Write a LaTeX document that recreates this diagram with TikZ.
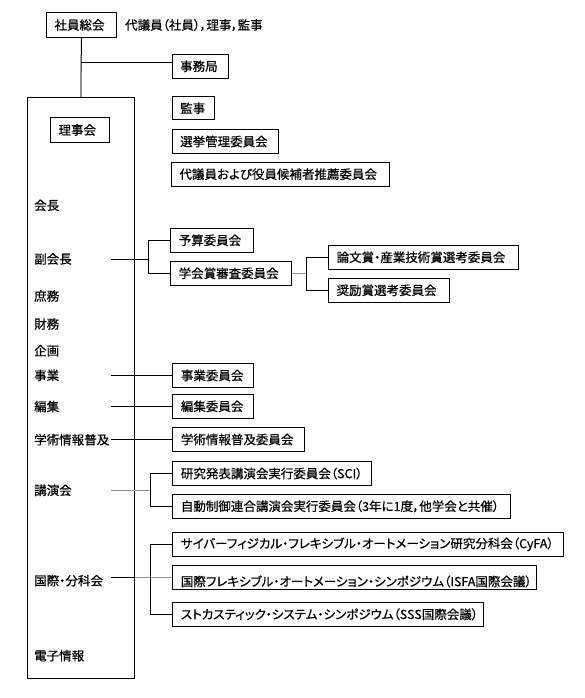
\documentclass[tikz,border=0pt]{standalone}
\usepackage{fontspec}
\setmainfont{Noto Sans CJK JP}[RawFeature=+palt, FakeBold=0.6]
\definecolor{linegray}{HTML}{8E8E8E}
\begin{document}
\begin{tikzpicture}[x=1pt,y=-1pt,
  font=\fontsize{12.5}{14}\selectfont,
  cbox/.style={draw, line width=1pt, anchor=west, minimum height=24pt,
    inner xsep=8pt, inner ysep=0pt, align=left, text width=#1},
  lab/.style={anchor=west, inner sep=0pt, text width=77pt, align=left},
  ln/.style={line width=1pt},
  gln/.style={line width=1.2pt, draw=linegray}]
\useasboundingbox (0,0) rectangle (584,698);

% top
\node[cbox=54pt, minimum height=25.4pt] (soukai) at (46,25) {社員総会};
\node[anchor=west, inner sep=0pt] (dai) at (125,25) {代議員（社員），理事，監事};
\node[cbox=40pt] (jimu) at (171.7,66.3) {事務局};
\node[cbox=26.6pt, minimum height=23.3pt] (kanji) at (171.7,108.3) {監事};
\node[cbox=90pt] (senkyo) at (171.7,141.5) {選挙管理委員会};
\node[cbox=201.7pt] (suisen) at (171,174.2) {代議員および役員候補者推薦委員会};

% frame
\node[draw, line width=1pt, minimum width=107pt, minimum height=580.6pt, inner sep=0pt] (frame) at (80.8,388) {};
\node[cbox=42.7pt, minimum height=25.4pt] (rijikai) at (50,130) {理事会};

% left labels
\node[lab] (kaicho) at (34,205.3) {会長};
\node[lab] (fukukaicho) at (34,259) {副会長};
\node[lab] (shomu) at (34,296) {庶務};
\node[lab] (zaimu) at (34,324) {財務};
\node[lab] (kikaku) at (34,350.7) {企画};
\node[lab] (jigyo) at (34,375.3) {事業};
\node[lab] (henshu) at (34,406.5) {編集};
\node[lab] (gakujutsu) at (34,439.7) {学術情報普及};
\node[lab] (koen) at (34,490.3) {講演会};
\node[lab] (kokusai) at (34,580.7) {国際・分科会};
\node[lab] (denshi) at (34,655.7) {電子情報};

% committees
\node[cbox=66.3pt] (yosan) at (170.2,240.3) {予算委員会};
\node[cbox=105pt] (shinsa) at (170.2,273.3) {学会賞審査委員会};
\node[cbox=173.6pt] (ronbun) at (328.1,257.3) {論文賞・産業技術賞選考委員会};
\node[cbox=104.7pt] (shorei) at (328.1,290.3) {奨励賞選考委員会};
\node[cbox=65pt] (jigyoI) at (172.4,375.5) {事業委員会};
\node[cbox=65pt] (henshuI) at (172.4,406.3) {編集委員会};
\node[cbox=116pt] (gakujutsuI) at (172.4,439.5) {学術情報普及委員会};
\node[cbox=182.2pt] (sci) at (172.4,473.5) {研究発表講演会実行委員会（SCI）};
\node[cbox=321.8pt] (jido) at (172.4,506.3) {自動制御連合講演会実行委員会（3年に1度，他学会と共催）};
\node[cbox=375pt] (cyfa) at (172.4,544.3) {サイバーフィジカル・フレキシブル・オートメーション研究分科会（CyFA）};
\node[cbox=348pt] (isfa) at (172.4,577.3) {\rule{0pt}{19pt}国際フレキシブル・オートメーション・シンポジウム（ISFA国際会議）};
\node[cbox=295pt] (sss) at (172.4,614.3) {ストカスティック・システム・シンポジウム（SSS国際会議）};

% connectors
\coordinate (j1) at (81,63);
\coordinate (j2) at (81,72);
\draw[ln] (soukai.south) -- (j2);
\draw[ln] (j1) -- (j1 -| jimu.west);
\draw[gln] (j2) -- (j2 |- frame.north);

\coordinate (b1) at (148.2,259);
\draw[ln] (fukukaicho.east) -- (b1);
\draw[ln] (yosan.west) -- (yosan.west -| b1) -- (shinsa.west -| b1) -- (shinsa.west);

\coordinate (b2) at (306.5,273.3);
\draw[gln] (shinsa.east) -- (b2);
\draw[ln] (ronbun.west) -- (ronbun.west -| b2) -- (shorei.west -| b2) -- (shorei.west);

\draw[ln] (jigyo.east) -- (jigyo.east -| jigyoI.west);
\draw[ln] (henshu.east) -- (henshu.east -| henshuI.west);
\draw[ln] (gakujutsu.east) -- (gakujutsu.east -| gakujutsuI.west);

\coordinate (b3) at (150.5,490.3);
\draw[gln] (koen.east) -- (b3);
\draw[ln] (sci.west) -- (sci.west -| b3) -- (jido.west -| b3) -- (jido.west);

\draw[ln] (kokusai.east |- isfa.west) -- (isfa.west -| frame.east);
\draw[gln] (isfa.west -| frame.east) -- (isfa.west);
\draw[ln] (cyfa.west) -- (cyfa.west -| b3) -- (sss.west -| b3) -- (sss.west);
\end{tikzpicture}
\end{document}
